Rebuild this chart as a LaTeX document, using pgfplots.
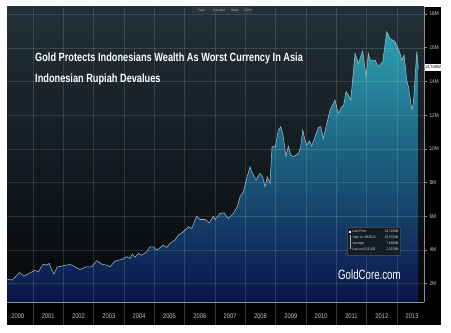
\documentclass[border=0pt]{standalone}
\usepackage{pgfplots}
\pgfplotsset{compat=1.18}
\usepackage{pgfplotstable}
\usepackage{fontspec}
\setmainfont{Liberation Sans}
\newfontfamily\titlefont[FakeStretch=0.77]{Liberation Sans}
\newfontfamily\gcfont[FakeStretch=0.72]{Liberation Sans}
\newfontfamily\smallfont[FakeStretch=0.85]{Liberation Sans}

\definecolor{plotTop}{RGB}{34,48,57}
\definecolor{plotMid}{RGB}{18,23,27}
\definecolor{plotBot}{RGB}{6,7,9}
\definecolor{fillTop}{RGB}{44,160,176}
\definecolor{fillMid}{RGB}{22,96,128}
\definecolor{fillBot}{RGB}{10,20,72}
\definecolor{lineC}{RGB}{160,185,192}
\definecolor{axisC}{RGB}{140,145,150}
\definecolor{sepC}{RGB}{55,55,58}
\definecolor{boxC}{RGB}{20,28,36}
\definecolor{boxB}{RGB}{60,70,80}
\definecolor{toolC}{RGB}{45,52,58}

\pgfplotstableread{
year value
2000.150 2.26
2000.298 2.20
2000.407 2.36
2000.548 2.65
2000.703 2.44
2000.901 2.63
2001.066 2.79
2001.175 2.69
2001.340 3.15
2001.452 3.09
2001.537 3.19
2001.617 2.79
2001.692 2.56
2001.801 2.99
2001.946 3.03
2002.220 3.13
2002.385 2.99
2002.550 2.83
2002.747 2.99
2002.935 2.99
2003.100 3.35
2003.265 3.15
2003.430 3.09
2003.539 2.99
2003.704 3.33
2003.924 3.43
2004.089 3.59
2004.198 3.49
2004.274 3.74
2004.363 3.55
2004.472 3.78
2004.584 3.68
2004.749 3.88
2004.858 4.18
2004.966 4.18
2005.078 3.98
2005.187 4.12
2005.296 4.28
2005.408 4.14
2005.517 4.38
2005.682 4.58
2005.791 4.87
2005.956 5.07
2006.120 5.37
2006.232 5.27
2006.397 6.00
2006.506 5.80
2006.671 5.80
2006.813 5.60
2006.945 6.00
2007.001 5.80
2007.166 6.16
2007.297 6.20
2007.439 5.86
2007.604 6.16
2007.736 6.56
2007.825 7.15
2007.934 7.45
2008.046 8.24
2008.155 8.93
2008.211 8.63
2008.352 8.14
2008.484 8.54
2008.573 8.34
2008.649 7.74
2008.725 8.34
2008.814 7.94
2008.880 10.12
2008.989 10.12
2009.088 11.11
2009.167 11.31
2009.233 10.91
2009.342 9.53
2009.418 10.16
2009.496 9.62
2009.582 9.53
2009.747 9.72
2009.826 10.12
2009.892 11.11
2009.968 10.52
2010.024 10.22
2010.110 10.48
2010.189 10.16
2010.298 10.71
2010.407 11.27
2010.486 11.31
2010.572 10.61
2010.660 11.31
2010.792 12.30
2010.957 12.89
2011.066 12.10
2011.178 12.50
2011.231 12.50
2011.320 13.39
2011.396 13.19
2011.475 12.89
2011.617 15.66
2011.726 15.07
2011.870 15.82
2011.979 14.28
2012.055 15.66
2012.111 15.27
2012.276 15.27
2012.385 14.87
2012.530 15.17
2012.662 16.95
2012.770 16.55
2012.935 16.36
2013.011 16.06
2013.100 15.66
2013.156 15.27
2013.232 15.56
2013.321 14.08
2013.374 13.68
2013.486 12.34
2013.539 12.69
2013.651 15.76
2013.704 14.72
}\gold

\begin{document}
\begin{tikzpicture}[x=1bp,y=1bp]
\path[use as bounding box, fill=white] (0,0) rectangle (451,332);
\fill[black] (7,7) rectangle (441,325);
\shade[top color=plotTop, middle color=plotMid, bottom color=plotBot] (7,30) rectangle (424,325);
\begin{axis}[
  at={(7bp,30bp)}, anchor=south west,
  scale only axis, width=417bp, height=295bp,
  xmin=2000.143, xmax=2013.89, ymin=0.90, ymax=18.42,
  axis x line*=bottom, axis y line*=right,
  axis line style={axisC, line width=0.6pt},
  axis on top,
  tick align=outside,
  major tick length=2.5bp,
  minor tick length=23bp,
  xtick={2000.5,2001.5,...,2013.5},
  xticklabels={2000,2001,2002,2003,2004,2005,2006,2007,2008,2009,2010,2011,2012,2013},
  minor xtick={2001,2002,...,2013},
  major x tick style={draw=none},
  minor x tick style={sepC, line width=0.6pt},
  ytick={2,4,...,18},
  yticklabels={2M,4M,6M,8M,10M,12M,14M,16M,18M},
  ytick style={axisC, line width=0.5pt},
  xminorgrids=true, ymajorgrids=true, xmajorgrids=false,
  minor grid style={white, opacity=0.13, line width=0.4pt},
  major grid style={white, opacity=0.13, line width=0.4pt},
  xticklabel style={anchor=center, yshift=-12bp, text=white!78!black,
    font=\smallfont\fontsize{6.8}{7}\selectfont},
  yticklabel style={anchor=west, inner sep=0.5bp, xshift=2.3bp, text=white!78!black,
    font=\smallfont\fontsize{5.6}{6}\selectfont},
]
\addplot[draw=none, top color=fillTop, middle color=fillMid, bottom color=fillBot]
  table[x=year, y=value] {\gold} \closedcycle;
\addplot[lineC, line width=0.55pt] table[x=year, y=value] {\gold};
\end{axis}
% title
\node[anchor=base west, inner sep=0, text=white, font=\titlefont\bfseries\fontsize{12}{14}\selectfont] at (35,271) {Gold Protects Indonesians Wealth As Worst Currency In Asia};
\node[anchor=base west, inner sep=0, text=white, font=\titlefont\bfseries\fontsize{12}{14}\selectfont] at (35,250) {Indonesian Rupiah Devalues};
% watermark
\node[anchor=base west, inner sep=0, text=white, font=\gcfont\fontsize{13.5}{15}\selectfont] at (338,52.5) {GoldCore.com};
% last price tag
\node[anchor=west, fill=white, text=black, inner sep=0.6bp, minimum height=7bp, font=\smallfont\fontsize{4.2}{4.5}\selectfont] at (424.5,265) {14.7198M};
% info box
\fill[boxC, draw=boxB, line width=0.3pt] (347,77) rectangle (400,105);
\fill[white] (349,99.3) rectangle (351,101.5);
\draw[white!70!black, line width=0.4pt] (350,83) -- (350,97.5);
\begin{scope}[font=\smallfont\fontsize{3.6}{4}\selectfont, text=white!85!black, inner sep=0]
\node[anchor=base west] at (352.5,99.5) {Last Price};
\node[anchor=base east] at (398.5,99.5) {14.7198M};
\node[anchor=base west] at (352.5,93.5) {High on 09/28/12};
\node[anchor=base east] at (398.5,93.5) {16.9750M};
\node[anchor=base west] at (352.5,87.5) {Average};
\node[anchor=base east] at (398.5,87.5) {7.4608M};
\node[anchor=base west] at (352.5,81.5) {Low on 01/31/00};
\node[anchor=base east] at (398.5,81.5) {2.2220M};
\end{scope}
% toolbar
\fill[toolC] (192,319) rectangle (253,324.5);
\begin{scope}[font=\smallfont\fontsize{3.5}{4}\selectfont, text=white!70!black, inner sep=0]
\node[anchor=base] at (201,320.5) {Track};
\node[anchor=base] at (219,320.5) {Annotate};
\node[anchor=base] at (235,320.5) {News};
\node[anchor=base] at (248,320.5) {Zoom};
\end{scope}
\end{tikzpicture}
\end{document}
